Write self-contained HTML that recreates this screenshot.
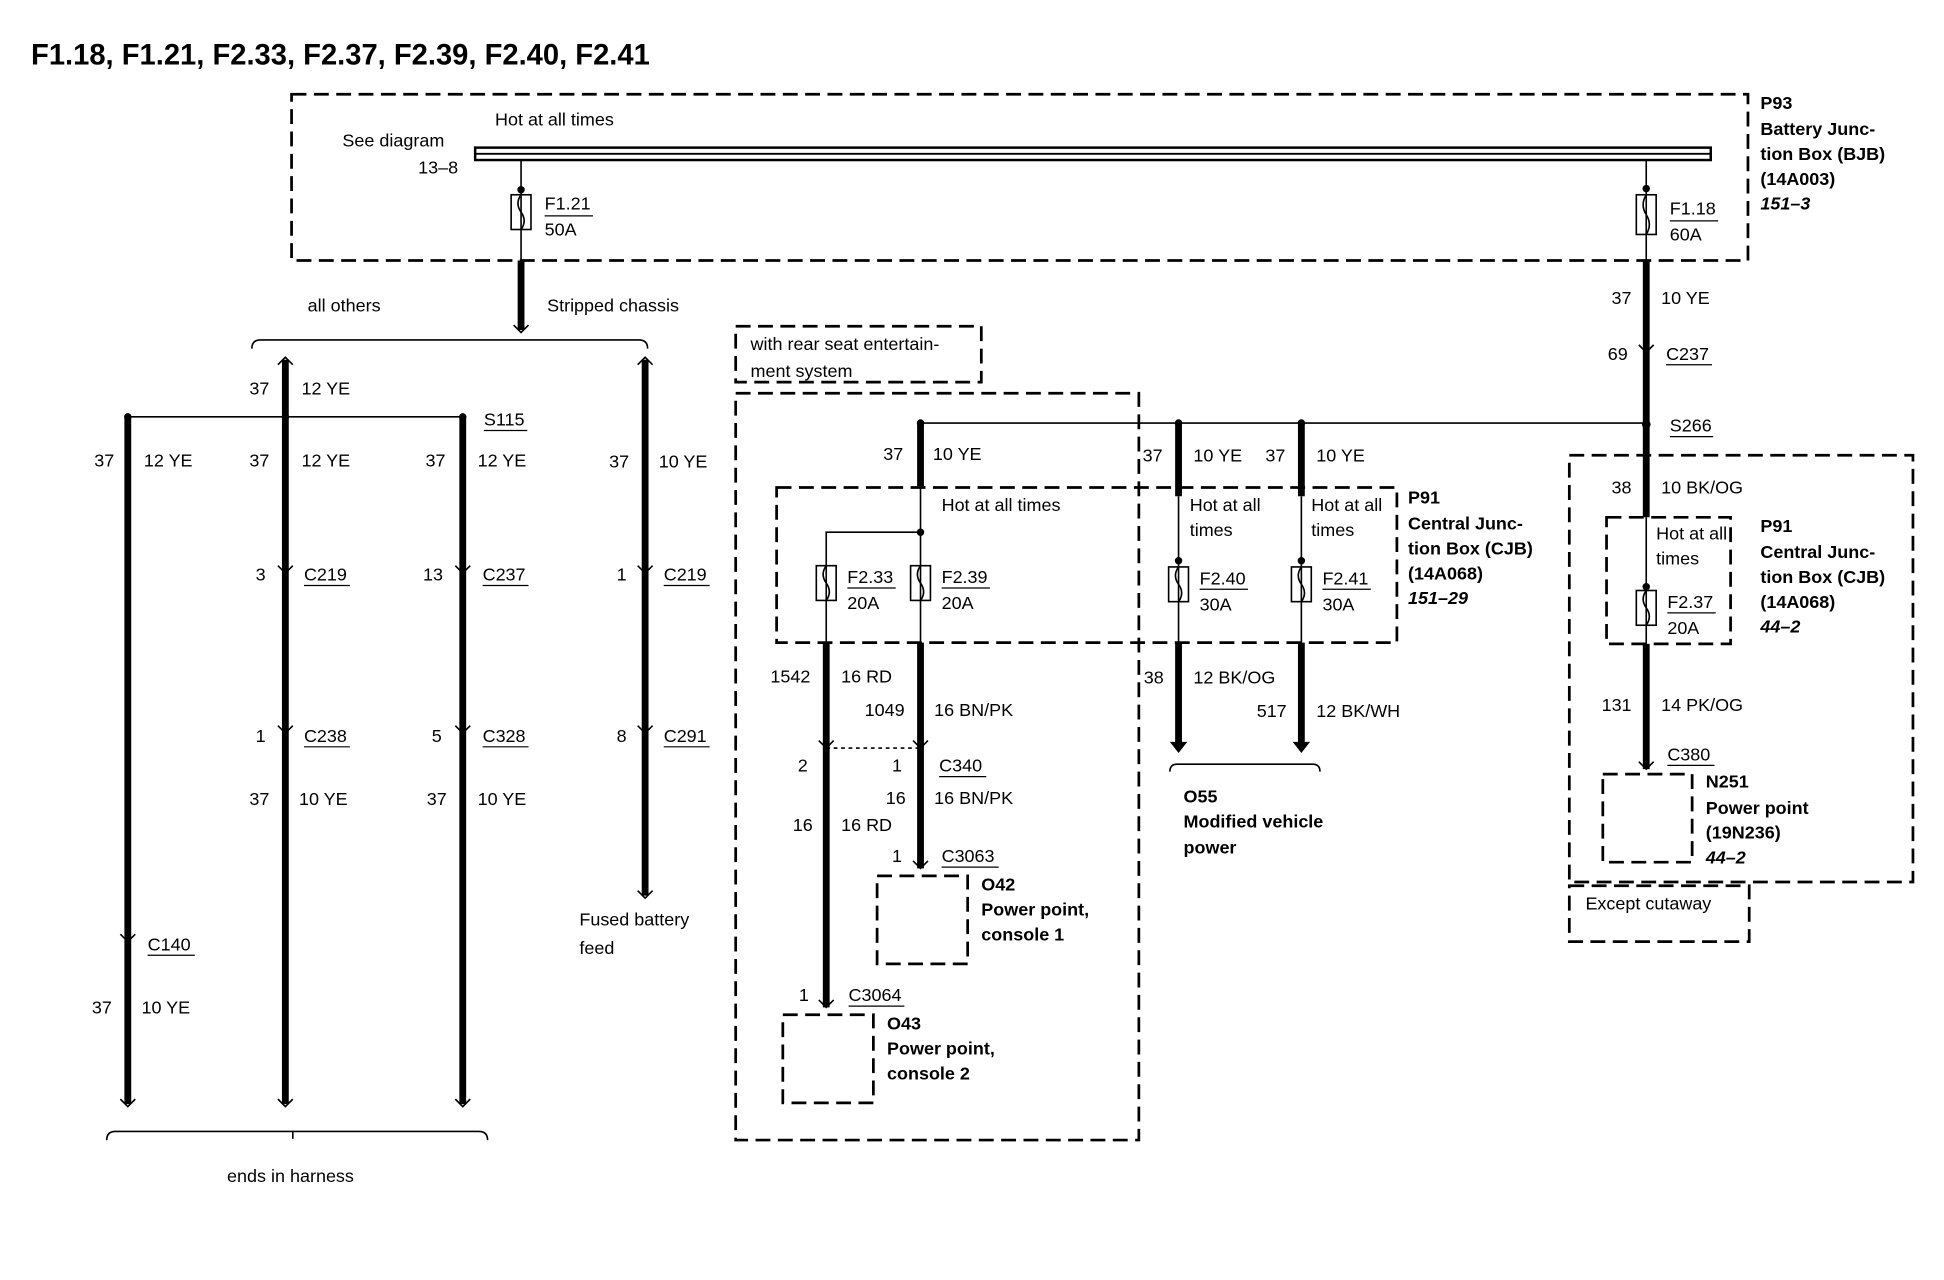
<!DOCTYPE html>
<html><head><meta charset="utf-8"><style>
html,body{margin:0;padding:0;background:#fff;}
svg{display:block;}
text{font-family:"Liberation Sans",Arial,sans-serif;font-size:14.5px;fill:#000;}
.b{font-weight:bold;}
.i{font-style:italic;font-weight:bold;}
.d{fill:none;stroke:#000;stroke-width:2.2;stroke-dasharray:12,6;}
.w{stroke:#000;stroke-width:5.5;fill:none;}
.t{stroke:#000;stroke-width:1.3;fill:none;}
.u{stroke:#000;stroke-width:1;}
</style></head><body>
<svg width="1944" height="1280" viewBox="0 0 1567 1031.8" xmlns="http://www.w3.org/2000/svg">
<rect width="1567" height="1032" fill="#fff"/>
<text x="25" y="52" class="b" style="font-size:23.5px">F1.18, F1.21, F2.33, F2.37, F2.39, F2.40, F2.41</text>

<!-- BJB box -->
<rect x="235" y="76" width="1174" height="134" class="d"/>
<text x="399" y="101">Hot at all times</text>
<text x="276" y="118">See diagram</text>
<text x="337" y="140">13–8</text>
<rect x="383" y="119" width="996" height="10" fill="#fff" stroke="#000" stroke-width="2"/>
<line x1="383" y1="124" x2="1379" y2="124" stroke="#000" stroke-width="1.5"/>
<text x="1419" y="88" class="b">P93</text>
<text x="1419" y="109" class="b">Battery Junc-</text>
<text x="1419" y="129" class="b">tion Box (BJB)</text>
<text x="1419" y="149" class="b">(14A003)</text>
<text x="1419" y="169" class="i">151–3</text>

<!-- F1.21 -->
<line x1="420" y1="129" x2="420" y2="210" class="t"/>
<circle cx="420" cy="153" r="3"/>
<rect x="412" y="157" width="16" height="28" class="t"/>
<path d="M420 157 q-5 7 0 14 q5 7 0 14" class="t"/>
<text x="439" y="169">F1.21</text><line x1="439" y1="174" x2="478" y2="174" class="u"/>
<text x="439" y="190">50A</text>
<line x1="420" y1="210" x2="420" y2="266" class="w"/>
<path d="M414 262 l6 6 l6 -6" class="t"/>
<text x="248" y="251">all others</text>
<text x="441" y="251">Stripped chassis</text>
<path d="M203 281 q0 -7 7 -7 L515 274 q7 0 7 7" class="t"/>

<!-- F1.18 -->
<line x1="1327" y1="129" x2="1327" y2="210" class="t"/>
<circle cx="1327" cy="152" r="3"/>
<rect x="1319" y="157" width="16" height="32" class="t"/>
<path d="M1327 157 q-5 8 0 16 q5 8 0 16" class="t"/>
<text x="1346" y="173">F1.18</text><line x1="1346" y1="178" x2="1385" y2="178" class="u"/>
<text x="1346" y="194">60A</text>
<line x1="1327" y1="210" x2="1327" y2="342" class="w"/>
<text x="1299" y="245">37</text><text x="1339" y="245">10 YE</text>
<text x="1296" y="290">69</text><text x="1343" y="290">C237</text><line x1="1343" y1="294" x2="1380" y2="294" class="u"/>
<path d="M1321 278 l6 6 l6 -6" class="t" stroke-width="2"/>
<circle cx="1327" cy="342" r="3.5"/>
<text x="1346" y="348">S266</text><line x1="1346" y1="352" x2="1381" y2="352" class="u"/>
<line x1="742" y1="341" x2="1327" y2="341" class="t"/>

<!-- left harness -->
<line x1="103" y1="336" x2="373" y2="336" class="t"/>
<circle cx="103" cy="336" r="3"/><circle cx="230" cy="336" r="3"/><circle cx="373" cy="336" r="3"/>
<line x1="230" y1="290" x2="230" y2="890" class="w"/>
<path d="M224 294 l6 -6 l6 6" class="t"/>
<line x1="103" y1="336" x2="103" y2="890" class="w"/>
<line x1="373" y1="336" x2="373" y2="890" class="w"/>
<line x1="520" y1="290" x2="520" y2="722" class="w"/>
<path d="M514 294 l6 -6 l6 6" class="t"/>
<path d="M97 886 l6 6 l6 -6 M224 886 l6 6 l6 -6 M367 886 l6 6 l6 -6 M514 718 l6 6 l6 -6" class="t"/>
<text x="201" y="318">37</text><text x="243" y="318">12 YE</text>
<text x="390" y="343">S115</text><line x1="390" y1="347" x2="425" y2="347" class="u"/>
<text x="76" y="376">37</text><text x="116" y="376">12 YE</text>
<text x="201" y="376">37</text><text x="243" y="376">12 YE</text>
<text x="343" y="376">37</text><text x="385" y="376">12 YE</text>
<text x="491" y="377">37</text><text x="531" y="377">10 YE</text>
<text x="206" y="468">3</text><text x="245" y="468">C219</text><line x1="245" y1="472" x2="282" y2="472" class="u"/>
<text x="341" y="468">13</text><text x="389" y="468">C237</text><line x1="389" y1="472" x2="426" y2="472" class="u"/>
<text x="497" y="468">1</text><text x="535" y="468">C219</text><line x1="535" y1="472" x2="572" y2="472" class="u"/>
<text x="206" y="598">1</text><text x="245" y="598">C238</text><line x1="245" y1="602" x2="282" y2="602" class="u"/>
<text x="348" y="598">5</text><text x="389" y="598">C328</text><line x1="389" y1="602" x2="426" y2="602" class="u"/>
<text x="497" y="598">8</text><text x="535" y="598">C291</text><line x1="535" y1="602" x2="572" y2="602" class="u"/>
<path d="M224 456 l6 6 l6 -6 M367 456 l6 6 l6 -6 M514 456 l6 6 l6 -6 M224 585 l6 6 l6 -6 M367 585 l6 6 l6 -6 M514 585 l6 6 l6 -6 M97 753 l6 6 l6 -6" class="t" stroke-width="2"/>
<text x="201" y="649">37</text><text x="241" y="649">10 YE</text>
<text x="344" y="649">37</text><text x="385" y="649">10 YE</text>
<text x="119" y="766">C140</text><line x1="119" y1="770" x2="157" y2="770" class="u"/>
<text x="74" y="817">37</text><text x="114" y="817">10 YE</text>
<text x="467" y="746">Fused battery</text><text x="467" y="769">feed</text>
<path d="M86 919 q0 -7 7 -7 L386 912 q7 0 7 7" class="t"/>
<line x1="236" y1="912" x2="236" y2="918" class="t"/>
<text x="183" y="953">ends in harness</text>

<!-- rear seat ent -->
<rect x="593" y="263" width="198" height="45" class="d"/>
<text x="605" y="282">with rear seat entertain-</text>
<text x="605" y="304">ment system</text>
<rect x="593" y="317" width="325" height="602" class="d"/>
<circle cx="742" cy="341" r="3"/>
<line x1="742" y1="341" x2="742" y2="392" class="w"/>
<text x="712" y="371">37</text><text x="752" y="371">10 YE</text>

<!-- CJB box -->
<rect x="626" y="393" width="500" height="125" class="d"/>
<text x="759" y="412">Hot at all times</text>
<line x1="742" y1="392" x2="742" y2="518" class="t"/>
<circle cx="742" cy="429" r="3"/>
<path d="M742 429 L666 429 L666 518" class="t"/>
<rect x="658" y="456" width="16" height="28" class="t"/><path d="M666 456 q-5 7 0 14 q5 7 0 14" class="t"/>
<rect x="734" y="456" width="16" height="28" class="t"/><path d="M742 456 q-5 7 0 14 q5 7 0 14" class="t"/>
<text x="683" y="470">F2.33</text><line x1="683" y1="474" x2="722" y2="474" class="u"/><text x="683" y="491">20A</text>
<text x="759" y="470">F2.39</text><line x1="759" y1="474" x2="798" y2="474" class="u"/><text x="759" y="491">20A</text>
<text x="1135" y="406" class="b">P91</text>
<text x="1135" y="427" class="b">Central Junc-</text>
<text x="1135" y="447" class="b">tion Box (CJB)</text>
<text x="1135" y="467" class="b">(14A068)</text>
<text x="1135" y="487" class="i">151–29</text>

<line x1="666" y1="518" x2="666" y2="812" class="w"/>
<line x1="742" y1="518" x2="742" y2="700" class="w"/>
<text x="621" y="550">1542</text><text x="678" y="550">16 RD</text>
<text x="697" y="577">1049</text><text x="753" y="577">16 BN/PK</text>
<path d="M666 603 L742 603" class="t" stroke-dasharray="3,3"/>
<path d="M660 597 l6 6 l6 -6 M736 597 l6 6 l6 -6" class="t" stroke-width="2"/>
<text x="643" y="622">2</text><text x="719" y="622">1</text>
<text x="757" y="622">C340</text><line x1="757" y1="626" x2="795" y2="626" class="u"/>
<text x="714" y="648">16</text><text x="753" y="648">16 BN/PK</text>
<text x="639" y="670">16</text><text x="678" y="670">16 RD</text>
<text x="719" y="695">1</text><text x="759" y="695">C3063</text><line x1="759" y1="699" x2="805" y2="699" class="u"/>
<path d="M736 694 l6 6 l6 -6" class="t" stroke-width="2"/>
<rect x="707" y="706" width="73" height="71" class="d"/>
<text x="791" y="718" class="b">O42</text>
<text x="791" y="738" class="b">Power point,</text>
<text x="791" y="758" class="b">console 1</text>
<text x="644" y="807">1</text><text x="684" y="807">C3064</text><line x1="684" y1="811" x2="729" y2="811" class="u"/>
<path d="M660 806 l6 6 l6 -6" class="t" stroke-width="2"/>
<rect x="631" y="818" width="73" height="71" class="d"/>
<text x="715" y="830" class="b">O43</text>
<text x="715" y="850" class="b">Power point,</text>
<text x="715" y="870" class="b">console 2</text>

<!-- F2.40 / F2.41 -->
<circle cx="950" cy="341" r="3"/><circle cx="1049" cy="341" r="3"/>
<line x1="950" y1="341" x2="950" y2="400" class="w"/>
<line x1="1049" y1="341" x2="1049" y2="400" class="w"/>
<text x="921" y="372">37</text><text x="962" y="372">10 YE</text>
<text x="1020" y="372">37</text><text x="1061" y="372">10 YE</text>
<text x="959" y="412">Hot at all</text><text x="959" y="432">times</text>
<text x="1057" y="412">Hot at all</text><text x="1057" y="432">times</text>
<line x1="950" y1="400" x2="950" y2="518" class="t"/>
<line x1="1049" y1="400" x2="1049" y2="518" class="t"/>
<circle cx="950" cy="452" r="3"/><circle cx="1049" cy="452" r="3"/>
<rect x="942" y="457" width="16" height="28" class="t"/><path d="M950 457 q-5 7 0 14 q5 7 0 14" class="t"/>
<rect x="1041" y="457" width="16" height="28" class="t"/><path d="M1049 457 q-5 7 0 14 q5 7 0 14" class="t"/>
<text x="967" y="471">F2.40</text><line x1="967" y1="475" x2="1006" y2="475" class="u"/><text x="967" y="492">30A</text>
<text x="1066" y="471">F2.41</text><line x1="1066" y1="475" x2="1105" y2="475" class="u"/><text x="1066" y="492">30A</text>
<line x1="950" y1="518" x2="950" y2="600" class="w"/>
<line x1="1049" y1="518" x2="1049" y2="600" class="w"/>
<path d="M943 598 l7 9 l7 -9 z M1042 598 l7 9 l7 -9 z"/>
<text x="922" y="551">38</text><text x="962" y="551">12 BK/OG</text>
<text x="1013" y="578">517</text><text x="1061" y="578">12 BK/WH</text>
<path d="M943 622 q0 -6 6 -6 L1058 616 q6 0 6 6" class="t"/>
<text x="954" y="647" class="b">O55</text>
<text x="954" y="667" class="b">Modified vehicle</text>
<text x="954" y="688" class="b">power</text>

<!-- right side -->
<rect x="1265" y="367" width="277" height="344" class="d"/>
<line x1="1327" y1="342" x2="1327" y2="417" class="w"/>
<text x="1299" y="398">38</text><text x="1339" y="398">10 BK/OG</text>
<rect x="1295" y="417" width="100" height="102" class="d"/>
<text x="1335" y="435">Hot at all</text><text x="1335" y="455">times</text>
<line x1="1327" y1="417" x2="1327" y2="519" class="t"/>
<circle cx="1327" cy="473" r="3"/>
<rect x="1319" y="476" width="16" height="28" class="t"/><path d="M1327 476 q-5 7 0 14 q5 7 0 14" class="t"/>
<text x="1344" y="490">F2.37</text><line x1="1344" y1="494" x2="1383" y2="494" class="u"/><text x="1344" y="511">20A</text>
<text x="1419" y="429" class="b">P91</text>
<text x="1419" y="450" class="b">Central Junc-</text>
<text x="1419" y="470" class="b">tion Box (CJB)</text>
<text x="1419" y="490" class="b">(14A068)</text>
<text x="1419" y="510" class="i">44–2</text>
<line x1="1327" y1="519" x2="1327" y2="620" class="w"/>
<path d="M1321 614 l6 6 l6 -6" class="t" stroke-width="2"/>
<text x="1291" y="573">131</text><text x="1339" y="573">14 PK/OG</text>
<text x="1344" y="613">C380</text><line x1="1344" y1="617" x2="1382" y2="617" class="u"/>
<rect x="1292" y="624" width="72" height="71" class="d"/>
<text x="1375" y="635" class="b">N251</text>
<text x="1375" y="656" class="b">Power point</text>
<text x="1375" y="676" class="b">(19N236)</text>
<text x="1375" y="696" class="i">44–2</text>
<rect x="1265" y="714" width="145" height="45" class="d"/>
<text x="1278" y="733">Except cutaway</text>
</svg>
</body></html>
